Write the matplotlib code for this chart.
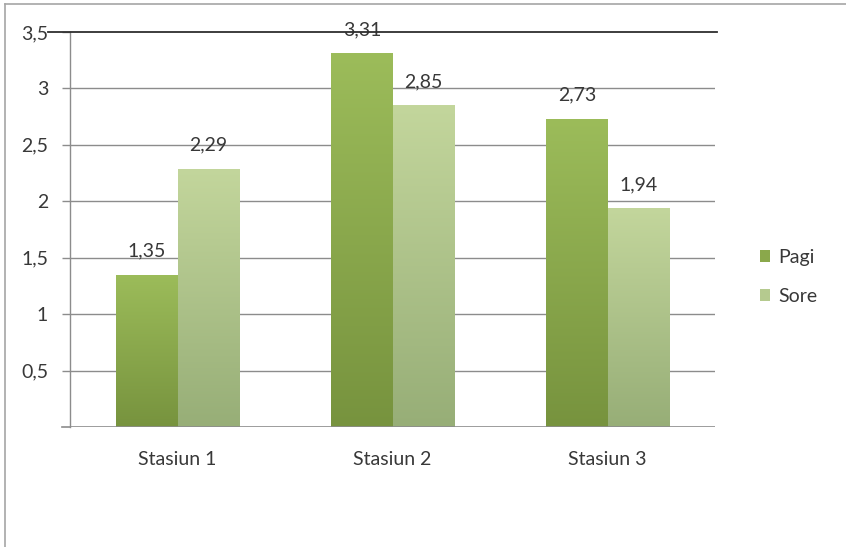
import numpy as np
import matplotlib
matplotlib.use("Agg")
import matplotlib.pyplot as plt
from matplotlib.colors import LinearSegmentedColormap
from matplotlib.patches import Patch
from matplotlib.lines import Line2D

categories = ["Stasiun 1", "Stasiun 2", "Stasiun 3"]
series_names = ["Pagi", "Sore"]
pagi = [1.35, 3.31, 2.73]
sore = [2.29, 2.85, 1.94]
y_ticks = [0.5, 1, 1.5, 2, 2.5, 3, 3.5]
y_tick_labels = ["0,5", "1", "1,5", "2", "2,5", "3", "3,5"]

FONT = "Lato"
FS = 14
TEXT_C = "#383838"
grad_colors = {
    "Pagi": ("#9cbc5a", "#77933e"),
    "Sore": ("#c3d69c", "#97ae77"),
}
legend_colors = {"Pagi": "#8aa84b", "Sore": "#b5ca8f"}

W, H = 846, 547
fig = plt.figure(figsize=(W / 100, H / 100), dpi=100)
ax = fig.add_axes([70 / W, (H - 427) / H, (715 - 70) / W, (427 - 32) / H])

ax.set_xlim(0, 3)
ax.set_ylim(0, 3.5)

bar_w = 0.285
x = np.arange(len(categories)) + 0.5
grad = np.linspace(1, 0, 256).reshape(-1, 1)

for vals, name, off in [(pagi, "Pagi", -bar_w / 2), (sore, "Sore", bar_w / 2)]:
    top_c, bot_c = grad_colors[name]
    cmap = LinearSegmentedColormap.from_list(name, [bot_c, top_c])
    bars = ax.bar(x + off, vals, width=bar_w, color=top_c, linewidth=0, zorder=3)
    for b, v in zip(bars, vals):
        x0 = b.get_x()
        im = ax.imshow(grad, cmap=cmap, aspect="auto", extent=(x0, x0 + bar_w, 0, v),
                       origin="upper", zorder=3.5, interpolation="bilinear")
        im.set_clip_path(b)
        ax.annotate(f"{v:.2f}".replace(".", ","), (x0 + bar_w / 2, v),
                    xytext=(0, 17), textcoords="offset points",
                    ha="center", va="center", fontsize=FS, family=FONT,
                    color=TEXT_C, zorder=5)

ax.set_xlim(0, 3)
ax.set_ylim(0, 3.5)

# grid lines
for t in y_ticks[:-1]:
    ax.axhline(t, color="#8c8c8c", lw=1.0, zorder=1)
ax.axhline(0, color="#8c8c8c", lw=1.2, zorder=4)
# top line reaching toward the 3,5 label
ax.add_line(Line2D([48, 717], [H - 32, H - 32], transform=None, color="#2e2e2e",
                   lw=1.3, zorder=6, clip_on=False))

for s in ["top", "right", "bottom"]:
    ax.spines[s].set_visible(False)
ax.spines["left"].set_color("#8c8c8c")
ax.spines["left"].set_linewidth(1.0)

ax.set_yticks(y_ticks)
ax.set_yticklabels(y_tick_labels, fontsize=FS, family=FONT, color=TEXT_C)
ax.tick_params(axis="y", length=5.8, width=1.0, color="#8c8c8c", pad=10)
ax.set_xticks(x)
ax.set_xticklabels(categories, fontsize=FS, family=FONT, color=TEXT_C)
ax.tick_params(axis="x", length=0, pad=17)
# tick stub at the base
ax.add_line(Line2D([62, 70], [H - 427, H - 427], transform=None, color="#8c8c8c",
                   lw=1.2, clip_on=False))

handles = [Patch(facecolor=legend_colors[n], edgecolor="none") for n in series_names]
leg = fig.legend(handles, series_names, loc="center left",
                 bbox_to_anchor=(742 / W, (H - 277) / H), frameon=False,
                 prop={"family": FONT, "size": FS}, handlelength=0.55,
                 handleheight=0.55, handletextpad=0.4, labelspacing=1.15)
for t in leg.get_texts():
    t.set_color(TEXT_C)

# outer frame edges
fig.add_artist(Line2D([5, W], [H - 4, H - 4], transform=None, color="#a6a6a6", lw=1.2))
fig.add_artist(Line2D([5, 5], [0, H - 4], transform=None, color="#a6a6a6", lw=1.2))

fig.savefig("out.png", dpi=100)
